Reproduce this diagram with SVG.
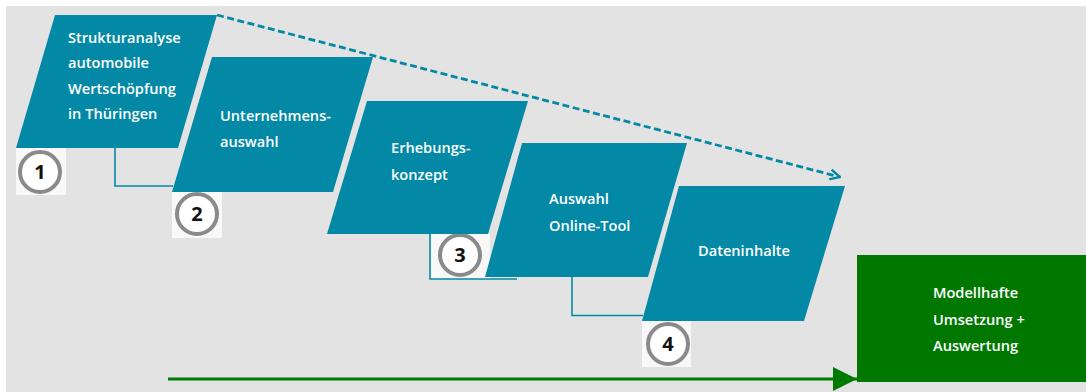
<svg xmlns="http://www.w3.org/2000/svg" width="1086" height="392" viewBox="0 0 1086 392">
  <style>
    .step { fill: #0389a6; }
    .lbl { font-family: "Open Sans", "Liberation Sans", sans-serif; font-weight: 600; font-size: 14.6px; fill: #ffffff; }
    .badge-bg { fill: #f8f8f8; }
    .ring { fill: #ffffff; stroke: #8a8a8a; stroke-width: 4; }
    .num { font-family: "Open Sans", "Liberation Sans", sans-serif; font-weight: 700; font-size: 20px; fill: #111111; text-anchor: middle; }
    .link { fill: none; stroke: #0389a6; stroke-width: 1.6; }
  </style>
  <defs>
    <marker id="openHead" viewBox="0 0 12 12" refX="11" refY="6" markerWidth="12" markerHeight="12" markerUnits="userSpaceOnUse" orient="auto">
      <path d="M1,1 L11,6 L1,11" fill="none" stroke="#0389a6" stroke-width="2.4"/>
    </marker>
    <marker id="greenHead" viewBox="0 0 24 24" refX="24" refY="12" markerWidth="24" markerHeight="24" markerUnits="userSpaceOnUse" orient="auto">
      <path d="M0,0 L24,12 L0,24 Z" fill="#007a00"/>
    </marker>
  </defs>

  <rect x="6" y="6" width="1080" height="386" fill="#e3e3e3"/>

  <g id="badge1">
    <rect class="badge-bg" x="16" y="148" width="50" height="47"/>
    <circle class="ring" cx="40" cy="172" r="20"/>
    <text class="num" x="40" y="179">1</text>
  </g>
  <g id="badge2">
    <rect class="badge-bg" x="172" y="192" width="50" height="46"/>
    <circle class="ring" cx="197" cy="214" r="20"/>
    <text class="num" x="197" y="221">2</text>
  </g>
  <g id="badge3">
    <rect class="badge-bg" x="430" y="234" width="60" height="45"/>
    <circle class="ring" cx="460" cy="255" r="20"/>
    <text class="num" x="460" y="262">3</text>
  </g>
  <g id="badge4">
    <rect class="badge-bg" x="642" y="321" width="49" height="46"/>
    <circle class="ring" cx="668" cy="344" r="20"/>
    <text class="num" x="668" y="351">4</text>
  </g>

  <g id="connectors">
    <polyline class="link" points="115,148 115,186 173,186"/>
    <polyline class="link" points="430,234 430,279 517,279"/>
    <polyline class="link" points="572,277 572,315.5 643,315.5"/>
    <line x1="217" y1="15" x2="840" y2="177" stroke="#0389a6" stroke-width="2.8" stroke-dasharray="7,3.5" marker-end="url(#openHead)"/>
    <line x1="168" y1="379" x2="857" y2="379" stroke="#007a00" stroke-width="3" marker-end="url(#greenHead)"/>
  </g>

  <g id="step1">
    <polygon class="step" points="55,15 217,15 178,148 16,148"/>
    <text class="lbl" x="68" y="43">Strukturanalyse</text>
    <text class="lbl" x="68" y="68">automobile</text>
    <text class="lbl" x="68" y="94">Wertschöpfung</text>
    <text class="lbl" x="68" y="119">in Thüringen</text>
  </g>
  <g id="step2">
    <polygon class="step" points="212,57 373,57 333,192 172,192"/>
    <text class="lbl" x="220" y="121">Unternehmens-</text>
    <text class="lbl" x="220" y="147">auswahl</text>
  </g>
  <g id="step3">
    <polygon class="step" points="367,101 528,101 488,234 327,234"/>
    <text class="lbl" x="391" y="153">Erhebungs-</text>
    <text class="lbl" x="391" y="180">konzept</text>
  </g>
  <g id="step4">
    <polygon class="step" points="522,143 687,143 648,277 485,277"/>
    <text class="lbl" x="549" y="204">Auswahl</text>
    <text class="lbl" x="549" y="231">Online-Tool</text>
  </g>
  <g id="step5">
    <polygon class="step" points="679,186 845,186 804,321 642,321"/>
    <text class="lbl" x="698" y="256">Dateninhalte</text>
  </g>
  <g id="result">
    <rect x="857" y="255" width="229" height="127" fill="#007800"/>
    <text class="lbl" x="933" y="298">Modellhafte</text>
    <text class="lbl" x="933" y="325">Umsetzung +</text>
    <text class="lbl" x="933" y="351">Auswertung</text>
  </g>
</svg>
